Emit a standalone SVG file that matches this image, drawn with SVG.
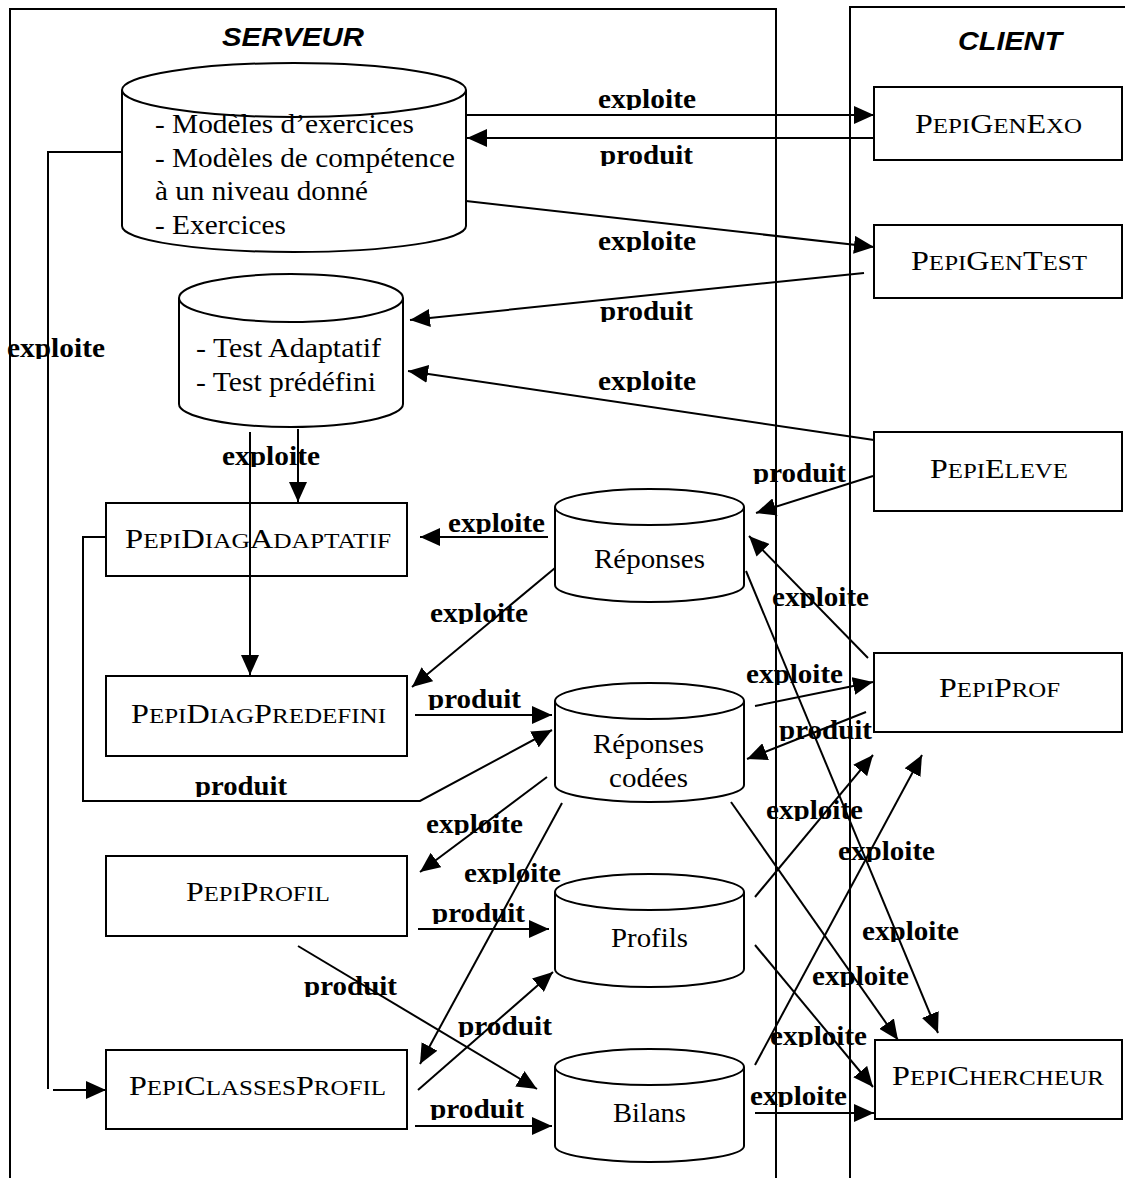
<svg xmlns="http://www.w3.org/2000/svg" width="1125" height="1178" viewBox="0 0 1125 1178">
<style>
.frame{fill:none;stroke:#000;stroke-width:2}
.title{font-family:"Liberation Sans",Arial,sans-serif;font-weight:bold;font-style:italic;font-size:26px}
.box{fill:#fff;stroke:#000;stroke-width:2}
.cyl{fill:#fff;stroke:#000;stroke-width:2}
.nt{font-family:"Liberation Serif","Times New Roman",serif;font-size:27px}
.sc{font-size:21px}
.ct{font-family:"Liberation Serif","Times New Roman",serif;font-size:27px}
.lbl{font-family:"Liberation Serif","Times New Roman",serif;font-weight:bold;font-size:27px;clip-path:url(#clipdesc)}
.c{fill:none;stroke:#000;stroke-width:2}
.a{marker-end:url(#arr)}
</style>
<defs>
<marker id="arr" viewBox="0 0 20 18" refX="20" refY="9" markerWidth="20" markerHeight="18" markerUnits="userSpaceOnUse" orient="auto">
<path d="M0,0 L20,9 L0,18 z" fill="#000"/>
</marker>
<clipPath id="clipdesc" clipPathUnits="objectBoundingBox">
<rect x="-0.1" y="-0.1" width="1.2" height="0.97"/>
</clipPath>
</defs>
<rect width="1125" height="1178" fill="#fff"/>
<g id="frames">
<path class="frame" d="M10,1178 V9 H776 V1178"/>
<path class="frame" d="M850,1178 V7 H1127"/>
<text class="title" x="222" y="46" textLength="142" lengthAdjust="spacingAndGlyphs">SERVEUR</text>
<text class="title" x="958" y="50" textLength="104" lengthAdjust="spacingAndGlyphs">CLIENT</text>
</g>
<g id="node-modeles">
<path class="cyl" d="M122,90 V226 A172,26 0 0 0 466,226 V90"/>
<ellipse class="cyl" cx="294" cy="90" rx="172" ry="27"/>
<text class="ct" x="155" y="133" textLength="259" lengthAdjust="spacingAndGlyphs">- Modèles d’exercices</text>
<text class="ct" x="155" y="167" textLength="300" lengthAdjust="spacingAndGlyphs">- Modèles de compétence</text>
<text class="ct" x="155" y="200" textLength="213" lengthAdjust="spacingAndGlyphs">à un niveau donné</text>
<text class="ct" x="155" y="234" textLength="131" lengthAdjust="spacingAndGlyphs">- Exercices</text>
</g>
<g id="node-tests">
<path class="cyl" d="M179,298 V404 A112,23 0 0 0 403,404 V298"/>
<ellipse class="cyl" cx="291" cy="298" rx="112" ry="24"/>
<text class="ct" x="196" y="357" textLength="185" lengthAdjust="spacingAndGlyphs">- Test Adaptatif</text>
<text class="ct" x="196" y="391" textLength="180" lengthAdjust="spacingAndGlyphs">- Test prédéfini</text>
</g>
<g id="node-reponses">
<path class="cyl" d="M555,507 V585 A94.5,17 0 0 0 744,585 V507"/>
<ellipse class="cyl" cx="649.5" cy="507" rx="94.5" ry="18"/>
<text class="ct" x="594" y="568" textLength="111" lengthAdjust="spacingAndGlyphs">Réponses</text>
</g>
<g id="node-reponses-codees">
<path class="cyl" d="M555,701 V785 A94.5,17 0 0 0 744,785 V701"/>
<ellipse class="cyl" cx="649.5" cy="701" rx="94.5" ry="18"/>
<text class="ct" x="593" y="753" textLength="111" lengthAdjust="spacingAndGlyphs">Réponses</text>
<text class="ct" x="609" y="787" textLength="79" lengthAdjust="spacingAndGlyphs">codées</text>
</g>
<g id="node-profils">
<path class="cyl" d="M555,892 V969 A94.5,18 0 0 0 744,969 V892"/>
<ellipse class="cyl" cx="649.5" cy="892" rx="94.5" ry="18"/>
<text class="ct" x="611" y="947" textLength="77" lengthAdjust="spacingAndGlyphs">Profils</text>
</g>
<g id="node-bilans">
<path class="cyl" d="M555,1067 V1146 A94.5,16 0 0 0 744,1146 V1067"/>
<ellipse class="cyl" cx="649.5" cy="1067" rx="94.5" ry="18"/>
<text class="ct" x="613" y="1122" textLength="73" lengthAdjust="spacingAndGlyphs">Bilans</text>
</g>
<g id="node-pepidiagadaptatif">
<rect class="box" x="106" y="503" width="301" height="73"/>
<text class="nt" x="125" y="548" textLength="266" lengthAdjust="spacingAndGlyphs">P<tspan class="sc">EPI</tspan>D<tspan class="sc">IAG</tspan>A<tspan class="sc">DAPTATIF</tspan></text>
</g>
<g id="node-pepidiagpredefini">
<rect class="box" x="106" y="676" width="301" height="80"/>
<text class="nt" x="131" y="723" textLength="255" lengthAdjust="spacingAndGlyphs">P<tspan class="sc">EPI</tspan>D<tspan class="sc">IAG</tspan>P<tspan class="sc">REDEFINI</tspan></text>
</g>
<g id="node-pepiprofil">
<rect class="box" x="106" y="856" width="301" height="80"/>
<text class="nt" x="186" y="901" textLength="144" lengthAdjust="spacingAndGlyphs">P<tspan class="sc">EPI</tspan>P<tspan class="sc">ROFIL</tspan></text>
</g>
<g id="node-pepiclassesprofil">
<rect class="box" x="106" y="1050" width="301" height="79"/>
<text class="nt" x="129" y="1095" textLength="257" lengthAdjust="spacingAndGlyphs">P<tspan class="sc">EPI</tspan>C<tspan class="sc">LASSES</tspan>P<tspan class="sc">ROFIL</tspan></text>
</g>
<g id="node-pepigenexo">
<rect class="box" x="874" y="87" width="248" height="73"/>
<text class="nt" x="915" y="133" textLength="167" lengthAdjust="spacingAndGlyphs">P<tspan class="sc">EPI</tspan>G<tspan class="sc">EN</tspan>E<tspan class="sc">XO</tspan></text>
</g>
<g id="node-pepigentest">
<rect class="box" x="874" y="225" width="248" height="73"/>
<text class="nt" x="911" y="270" textLength="176" lengthAdjust="spacingAndGlyphs">P<tspan class="sc">EPI</tspan>G<tspan class="sc">EN</tspan>T<tspan class="sc">EST</tspan></text>
</g>
<g id="node-pepieleve">
<rect class="box" x="874" y="432" width="248" height="79"/>
<text class="nt" x="930" y="478" textLength="138" lengthAdjust="spacingAndGlyphs">P<tspan class="sc">EPI</tspan>E<tspan class="sc">LEVE</tspan></text>
</g>
<g id="node-pepiprof">
<rect class="box" x="874" y="653" width="248" height="79"/>
<text class="nt" x="939" y="697" textLength="121" lengthAdjust="spacingAndGlyphs">P<tspan class="sc">EPI</tspan>P<tspan class="sc">ROF</tspan></text>
</g>
<g id="node-pepichercheur">
<rect class="box" x="875" y="1040" width="247" height="79"/>
<text class="nt" x="892" y="1085" textLength="212" lengthAdjust="spacingAndGlyphs">P<tspan class="sc">EPI</tspan>C<tspan class="sc">HERCHEUR</tspan></text>
</g>
<g id="connectors">
<g id="labels">
<text class="lbl" x="598" y="108" textLength="98" lengthAdjust="spacingAndGlyphs">exploite</text>
<text class="lbl" x="600" y="164" textLength="93" lengthAdjust="spacingAndGlyphs">produit</text>
<text class="lbl" x="598" y="250" textLength="98" lengthAdjust="spacingAndGlyphs">exploite</text>
<text class="lbl" x="600" y="320" textLength="93" lengthAdjust="spacingAndGlyphs">produit</text>
<text class="lbl" x="598" y="390" textLength="98" lengthAdjust="spacingAndGlyphs">exploite</text>
<text class="lbl" x="7" y="357" textLength="98" lengthAdjust="spacingAndGlyphs">exploite</text>
<text class="lbl" x="753" y="482" textLength="93" lengthAdjust="spacingAndGlyphs">produit</text>
<text class="lbl" x="222" y="465" textLength="98" lengthAdjust="spacingAndGlyphs">exploite</text>
<text class="lbl" x="448" y="532" textLength="97" lengthAdjust="spacingAndGlyphs">exploite</text>
<text class="lbl" x="430" y="622" textLength="98" lengthAdjust="spacingAndGlyphs">exploite</text>
<text class="lbl" x="772" y="606" textLength="97" lengthAdjust="spacingAndGlyphs">exploite</text>
<text class="lbl" x="746" y="683" textLength="97" lengthAdjust="spacingAndGlyphs">exploite</text>
<text class="lbl" x="428" y="708" textLength="93" lengthAdjust="spacingAndGlyphs">produit</text>
<text class="lbl" x="779" y="739" textLength="93" lengthAdjust="spacingAndGlyphs">produit</text>
<text class="lbl" x="195" y="795" textLength="92" lengthAdjust="spacingAndGlyphs">produit</text>
<text class="lbl" x="426" y="833" textLength="97" lengthAdjust="spacingAndGlyphs">exploite</text>
<text class="lbl" x="766" y="819" textLength="97" lengthAdjust="spacingAndGlyphs">exploite</text>
<text class="lbl" x="838" y="860" textLength="97" lengthAdjust="spacingAndGlyphs">exploite</text>
<text class="lbl" x="464" y="882" textLength="97" lengthAdjust="spacingAndGlyphs">exploite</text>
<text class="lbl" x="432" y="922" textLength="93" lengthAdjust="spacingAndGlyphs">produit</text>
<text class="lbl" x="862" y="940" textLength="97" lengthAdjust="spacingAndGlyphs">exploite</text>
<text class="lbl" x="812" y="985" textLength="97" lengthAdjust="spacingAndGlyphs">exploite</text>
<text class="lbl" x="304" y="995" textLength="93" lengthAdjust="spacingAndGlyphs">produit</text>
<text class="lbl" x="458" y="1035" textLength="94" lengthAdjust="spacingAndGlyphs">produit</text>
<text class="lbl" x="770" y="1045" textLength="97" lengthAdjust="spacingAndGlyphs">exploite</text>
<text class="lbl" x="430" y="1118" textLength="94" lengthAdjust="spacingAndGlyphs">produit</text>
<text class="lbl" x="750" y="1105" textLength="97" lengthAdjust="spacingAndGlyphs">exploite</text>
</g>
<path class="c a" d="M466,115 H874"/>
<path class="c a" d="M874,138 H467"/>
<path class="c a" d="M466,201 L874,247"/>
<path class="c a" d="M864,273 L410,320"/>
<path class="c a" d="M874,440 L408,371"/>
<path class="c a" d="M873,476 L756,513"/>
<path class="c a" d="M298,429 V502"/>
<path class="c a" d="M250,432 V675"/>
<path class="c a" d="M548,537 H420"/>
<path class="c a" d="M555,568 L412,687"/>
<path class="c a" d="M415,715 H552"/>
<path class="c a" d="M106,537 H83 V801 H420 L552,730"/>
<path class="c a" d="M547,777 L420,872"/>
<path class="c a" d="M562,803 L420,1064"/>
<path class="c a" d="M418,929 H549"/>
<path class="c a" d="M298,946 L537,1089"/>
<path class="c a" d="M418,1090 L553,972"/>
<path class="c a" d="M415,1126 H552"/>
<path class="c a" d="M755,706 L873,682"/>
<path class="c a" d="M866,712 L747,759"/>
<path class="c a" d="M868,658 L749,536"/>
<path class="c a" d="M746,571 L938,1033"/>
<path class="c a" d="M731,802 L898,1040"/>
<path class="c a" d="M755,897 L873,755"/>
<path class="c a" d="M755,1065 L922,755"/>
<path class="c a" d="M755,945 L873,1087"/>
<path class="c a" d="M755,1113 H874"/>
<path class="c" d="M122,152 H48 V1089"/>
<path class="c a" d="M53,1090 H106"/>
</g>
</svg>
